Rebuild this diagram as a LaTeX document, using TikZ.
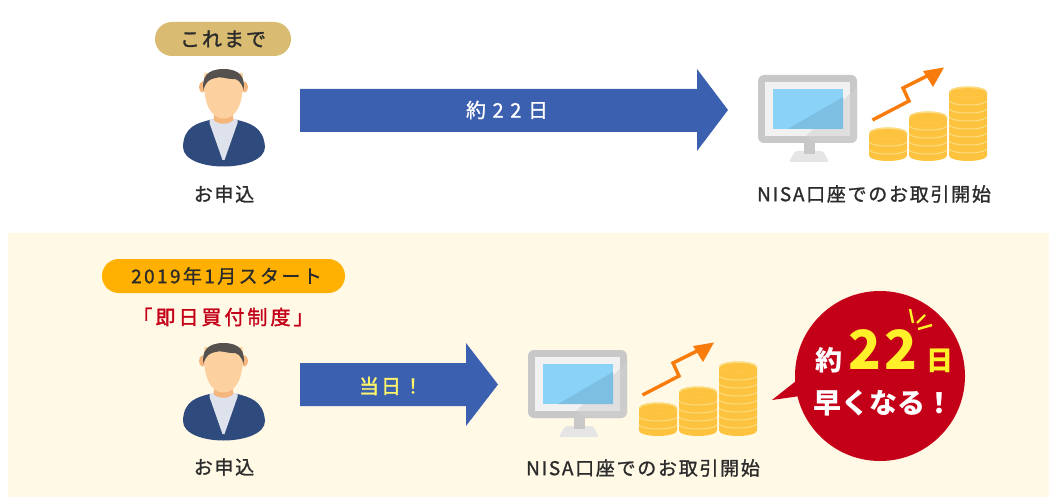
\documentclass[tikz,border=0pt]{standalone}
\usepackage{fontspec}
\setmainfont{Noto Sans CJK JP}
\newfontfamily\lsa{Noto Sans CJK JP}[LetterSpace=9,FakeBold=1.2]
\newfontfamily\lsp{Noto Sans CJK JP}[LetterSpace=12.6,FakeBold=1.2]
\newfontfamily\lsb{Noto Sans CJK JP}[LetterSpace=10,FakeBold=1.6]
\newfontfamily\lsc{Noto Sans CJK JP}[LetterSpace=33,FakeBold=1.2]
\newfontfamily\lsd{Noto Sans CJK JP}[LetterSpace=15,FakeBold=1.6]
\newfontfamily\lse{Noto Sans CJK JP}[LetterSpace=6]
\usetikzlibrary{calc}
\definecolor{blueA}{HTML}{3C60B0}
\definecolor{navy}{HTML}{2F4A7C}
\definecolor{skin}{HTML}{FDD09F}
\definecolor{skinD}{HTML}{F5B67E}
\definecolor{hair}{HTML}{55514F}
\definecolor{shirt}{HTML}{DDE2EC}
\definecolor{cream}{HTML}{FFF9E6}
\definecolor{tan}{HTML}{D9BC72}
\definecolor{amber}{HTML}{FFB000}
\definecolor{redC}{HTML}{C40018}
\definecolor{yel}{HTML}{FFF02A}
\definecolor{coin}{HTML}{FDC23E}
\definecolor{coinL}{HTML}{FBDB80}
\definecolor{org}{HTML}{F87C0C}
\definecolor{txt}{HTML}{2B2B2B}
\definecolor{monF}{HTML}{C8C8C8}
\definecolor{monI}{HTML}{F1F1F1}
\definecolor{scr}{HTML}{8AD2F8}
\definecolor{scrD}{HTML}{7CBFE2}
\tikzset{
  lbl/.style={text=txt,font=\lsa\fontsize{19}{20}\selectfont,inner sep=0pt,anchor=center},
  pill/.style={rounded corners=16.9pt,minimum height=34pt,inner sep=0pt,text=txt},
  pics/person/.style={code={
    \fill[navy] (-40.5,27) .. controls (-40,6) and (-25,3) .. (-14,0) -- (14,0) .. controls (25,3) and (40,6) .. (41.5,27)
      .. controls (41.5,40) and (20,46.5) .. (0,46.5) .. controls (-20,46.5) and (-40.5,40) .. (-40.5,27) -- cycle;
    \fill[shirt] (-14,-1) -- (14,-1) -- (14,3) -- (1,40) -- (-1,40) -- (-14,3) -- cycle;
    \fill[skinD] (-9,-8) -- (9,-8) -- (10,0) .. controls (5,5) and (-5,5) .. (-10,0) -- cycle;
    \fill[skinD] (-21,-33) circle[x radius=3.5,y radius=5.5];
    \fill[skinD] (21,-33) circle[x radius=3.5,y radius=5.5];
    \fill[skin] (-19.5,-40) .. controls (-20,-15) and (-12,-1.5) .. (0,-1.5) .. controls (12,-1.5) and (20,-15) .. (19.5,-40) -- (19,-47) -- (-19,-47) -- cycle;
    \fill[hair] (-20,-30) .. controls (-22,-42) and (-17,-51) .. (0,-51) .. controls (17,-51) and (22,-42) .. (20,-30)
      .. controls (18,-38) and (14,-42) .. (8,-41) .. controls (3,-41) and (-3,-44) .. (-8,-42) .. controls (-14,-41) and (-18,-38) .. (-20,-30) -- cycle;
  }},
  pics/monitor/.style={code={
    \fill[monI!70!monF,rounded corners=2pt] (31,87) -- (71,87) -- (65,76) -- (37,76) -- cycle;
    \fill[monF] (46,68) rectangle (57,79);
    \fill[monF,rounded corners=6pt] (0,0) rectangle (99,68);
    \fill[monI] (7,7) rectangle (92,61);
    \fill[black!18,opacity=.55] (99,12) -- (99,60) [rounded corners=5pt] -- (99,68) -- (60,68) [sharp corners] -- (48,61) -- cycle;
    \fill[scr] (15,14) rectangle (85,54);
    \fill[scrD] (85,22) -- (85,54) -- (30,54) -- cycle;
  }},
  pics/coins/.style={code={
    \fill[coin] (0,#1) arc[start angle=180,end angle=360,x radius=19,y radius=5.5] -- (38,80.5) arc[start angle=0,end angle=180,x radius=19,y radius=5.5] -- cycle;
    \pgfmathsetmacro{\ystart}{#1+8.5}
    \pgfmathsetmacro{\ynext}{#1+8.5+8}
    \foreach \yy in {\ystart,\ynext,...,79}{
      \draw[coinL,line width=1pt] (0,\yy) arc[start angle=180,end angle=0,x radius=19,y radius=4.5];
    }
    \fill[coinL] (19,#1) circle[x radius=19,y radius=5.5];
    \fill[coin] (19,#1+.8) circle[x radius=18,y radius=4.7];
  }},
  pics/invest/.style={code={
    \pic at (0,0) {monitor};
    \pic at (111,0) {coins=58};
    \pic at (151,0) {coins=42};
    \pic at (191,0) {coins=17};
    \draw[org,line width=3.4pt] (114.5,45) -- (151,26) -- (145,13) -- (174,-1.5);
    \fill[org] (186,-7.5) -- (165,-4) -- (175,12) -- cycle;
  }}
}
\begin{document}
\begin{tikzpicture}[x=1pt,y=-1pt]
\useasboundingbox (0,0) rectangle (1049,497);
\fill[white] (0,0) rectangle (1049,497);
\fill[cream] (8,233) rectangle (1049,497);

% top row
\node[pill,fill=tan,minimum width=136pt,font=\lsb\fontsize{20}{22}\selectfont] (p1) at (223,39) {これまで};
\pic at (223.5,120) {person};
\node[lbl] (l1) at (224,194) {お申込};
\fill[blueA] (300,89) -- (697,89) -- (697,69) -- (728,110) -- (697,151) -- (697,132) -- (300,132) -- cycle;
\node[lbl,text=white,font=\lsc\fontsize{20}{22}\selectfont] (d1) at (507,110) {約22日};
\pic at (758,75) {invest};
\node[lbl] (n1) at (874,194) {NISA口座でのお取引開始};

% bottom row
\node[pill,fill=amber,minimum width=243pt,font=\lsp\fontsize{19}{20}\selectfont] (p2) at (223.5,276) {\hspace*{6pt}2019年1月スタート};
\node[text=redC,inner sep=0pt,font=\lsd\fontsize{20}{22}\selectfont] (s2) at (223,317) {「即日買付制度」};
\pic at (223.5,394) {person};
\node[lbl] (l2) at (224,467) {お申込};
\fill[blueA] (300,363) -- (466,363) -- (466,343) -- (498,384.5) -- (466,426) -- (466,406) -- (300,406) -- cycle;
\node[lbl,text=yel!70!white,font=\lsb\fontsize{20}{22}\selectfont] (d2) at (391,386) {当日！};
\pic at (528,350) {invest};
\node[lbl] (n2) at (643,468) {NISA口座でのお取引開始};

% bubble
\fill[redC] (880,376) circle[radius=85];
\fill[redC] (772,400) -- (796,381) -- (800,396) -- cycle;
\node[inner sep=0pt,text=white,font=\fontsize{27}{28}\selectfont\bfseries] (b1) at (829,360) {約};
\node[inner sep=0pt,text=yel,font=\lse\bfseries\fontsize{54}{56}\selectfont] (b2) at (883,350) {22};
\node[inner sep=0pt,text=yel,font=\fontsize{27}{28}\selectfont\bfseries] (b3) at (940,361) {日};
\node[inner sep=0pt,text=white,font=\fontsize{28}{30}\selectfont\bfseries] (b4) at (883,403) {早くなる！};
\draw[yel,line width=2.4pt] (910,309) -- (913,323);
\draw[yel,line width=2.4pt] (925,315) -- (917,323);
\draw[yel,line width=2.4pt] (932,325) -- (918,329);
\end{tikzpicture}
\end{document}
